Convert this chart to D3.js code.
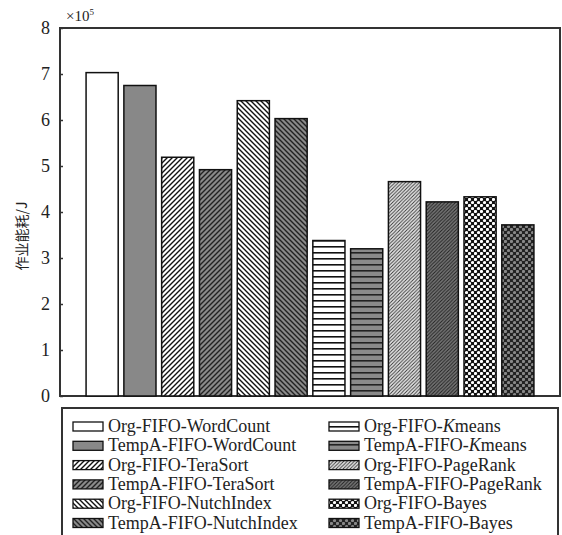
<!DOCTYPE html>
<html><head><meta charset="utf-8">
<script src="https://cdn.jsdelivr.net/npm/d3@7"></script>
<style>body{margin:0;background:#fff}svg{display:block}.serif{font-family:"Liberation Serif","Times New Roman","DejaVu Serif",serif}</style>
</head><body>
<svg id="c" width="562" height="535"></svg>
<script>
const categories = ["Org-FIFO-WordCount","TempA-FIFO-WordCount","Org-FIFO-TeraSort","TempA-FIFO-TeraSort","Org-FIFO-NutchIndex","TempA-FIFO-NutchIndex","Org-FIFO-Kmeans","TempA-FIFO-Kmeans","Org-FIFO-PageRank","TempA-FIFO-PageRank","Org-FIFO-Bayes","TempA-FIFO-Bayes"];
const values = [7.03, 6.75, 5.19, 4.92, 6.42, 6.03, 3.38, 3.20, 4.66, 4.22, 4.33, 3.72];
const yTicks = [0,1,2,3,4,5,6,7,8];
const patterns = ["white","gray","diagR","diagRg","diagL","diagLg","horiz","horizg","dense","denseg","dots","dotsg"];

(function(){
const svg = d3.select("#c");
const defs = svg.append("defs");
function pat(id, size, bg, draw){
  const p = defs.append("pattern").attr("id",id).attr("patternUnits","userSpaceOnUse").attr("width",size).attr("height",size);
  p.append("rect").attr("width",size).attr("height",size).attr("fill",bg);
  draw(p, size);
}
function diag(p,s,dir,col,w){
  if(dir>0){
    p.append("path").attr("d",`M0,${s} L${s},0 M${-s/2},${s/2} L${s/2},${-s/2} M${s/2},${s*1.5} L${s*1.5},${s/2}`).attr("stroke",col).attr("stroke-width",w);
  } else {
    p.append("path").attr("d",`M0,0 L${s},${s} M${-s/2},${s/2} L${s/2},${s*1.5} M${s/2},${-s/2} L${s*1.5},${s/2}`).attr("stroke",col).attr("stroke-width",w);
  }
}
pat("diagR",5,"#fff",(p,s)=>diag(p,s,1,"#111",1.4));
pat("diagRg",5,"#8a8a8a",(p,s)=>diag(p,s,1,"#222",1.4));
pat("diagL",5,"#fff",(p,s)=>diag(p,s,-1,"#111",1.4));
pat("diagLg",5,"#8a8a8a",(p,s)=>diag(p,s,-1,"#222",1.4));
pat("horiz",6,"#fff",(p,s)=>p.append("rect").attr("y",0).attr("width",s).attr("height",1.6).attr("fill","#111"));
pat("horizg",6,"#8a8a8a",(p,s)=>p.append("rect").attr("y",0).attr("width",s).attr("height",1.6).attr("fill","#222"));
pat("dense",3.5,"#e8e8e8",(p,s)=>diag(p,s,1,"#333",0.9));
pat("denseg",3.5,"#777",(p,s)=>diag(p,s,1,"#222",1));
pat("dots",6,"#111",(p,s)=>{p.append("circle").attr("cx",1.5).attr("cy",1.5).attr("r",1.6).attr("fill","#fff");p.append("circle").attr("cx",4.5).attr("cy",4.5).attr("r",1.6).attr("fill","#fff");});
pat("dotsg",6,"#222",(p,s)=>{p.append("circle").attr("cx",1.5).attr("cy",1.5).attr("r",1.6).attr("fill","#888");p.append("circle").attr("cx",4.5).attr("cy",4.5).attr("r",1.6).attr("fill","#888");});
function fillOf(k){ if(k==="white") return "#fff"; if(k==="gray") return "#888"; return `url(#${k})`; }

const pl=60, pr=560, pt=28, pb=396;
const x = d3.scaleBand().domain(categories).range([pl,pr]).paddingInner(0.15).paddingOuter(0.69);
const y = d3.scaleLinear().domain([0,8]).range([pb,pt]);

svg.append("rect").attr("x",pl).attr("y",pt).attr("width",pr-pl).attr("height",pb-pt).attr("fill","none").attr("stroke","#333").attr("stroke-width",2);

svg.append("g").selectAll("rect").data(values).join("rect")
  .attr("x",(d,i)=>x(categories[i])).attr("y",d=>y(d))
  .attr("width",x.bandwidth()).attr("height",d=>y(0)-y(d))
  .attr("fill",(d,i)=>fillOf(patterns[i])).attr("stroke","#111").attr("stroke-width",1.5);

const ya = svg.append("g").attr("transform",`translate(${pl},0)`)
  .call(d3.axisLeft(y).tickValues(yTicks).tickSize(-3).tickPadding(10).tickFormat(d3.format("d")));
ya.attr("font-family",null).attr("font-size",null);
ya.select(".domain").remove();
ya.selectAll("line").attr("stroke","#333").attr("stroke-width",1.5);
ya.selectAll("text").attr("class","serif").style("font-size","18px").attr("fill","#222");

const m = svg.append("text").attr("class","serif").attr("x",66).attr("y",21).style("font-size","15px").attr("fill","#222");
m.append("tspan").text("×10");
m.append("tspan").attr("dy",-6).style("font-size","9px").text("5");

svg.append("text").attr("transform","translate(27,236) rotate(-90)").attr("text-anchor","middle")
  .style("font-family","'Noto Sans CJK SC',sans-serif").style("font-size","14px").attr("fill","#222").text("作业能耗/J");

svg.append("rect").attr("x",62).attr("y",408).attr("width",496).attr("height",140).attr("fill","#fff").attr("stroke","#333").attr("stroke-width",2);
const lg = svg.append("g");
categories.forEach((c,i)=>{
  const col = i<6?0:1, row = i%6;
  const sx = col===0?73:329, sy = 422 + row*19.3;
  lg.append("rect").attr("x",sx).attr("y",sy).attr("width",30).attr("height",9)
    .attr("fill",fillOf(patterns[i])).attr("stroke","#111").attr("stroke-width",1.3);
  const t = lg.append("text").attr("class","serif").attr("x",sx+35).attr("y",sy+10).style("font-size","18px").attr("fill","#222");
  if(c.endsWith("Kmeans")){
    t.append("tspan").text(c.replace("Kmeans",""));
    t.append("tspan").style("font-style","italic").text("K");
    t.append("tspan").text("means");
  } else t.text(c);
});
})();
</script>
</body></html>
